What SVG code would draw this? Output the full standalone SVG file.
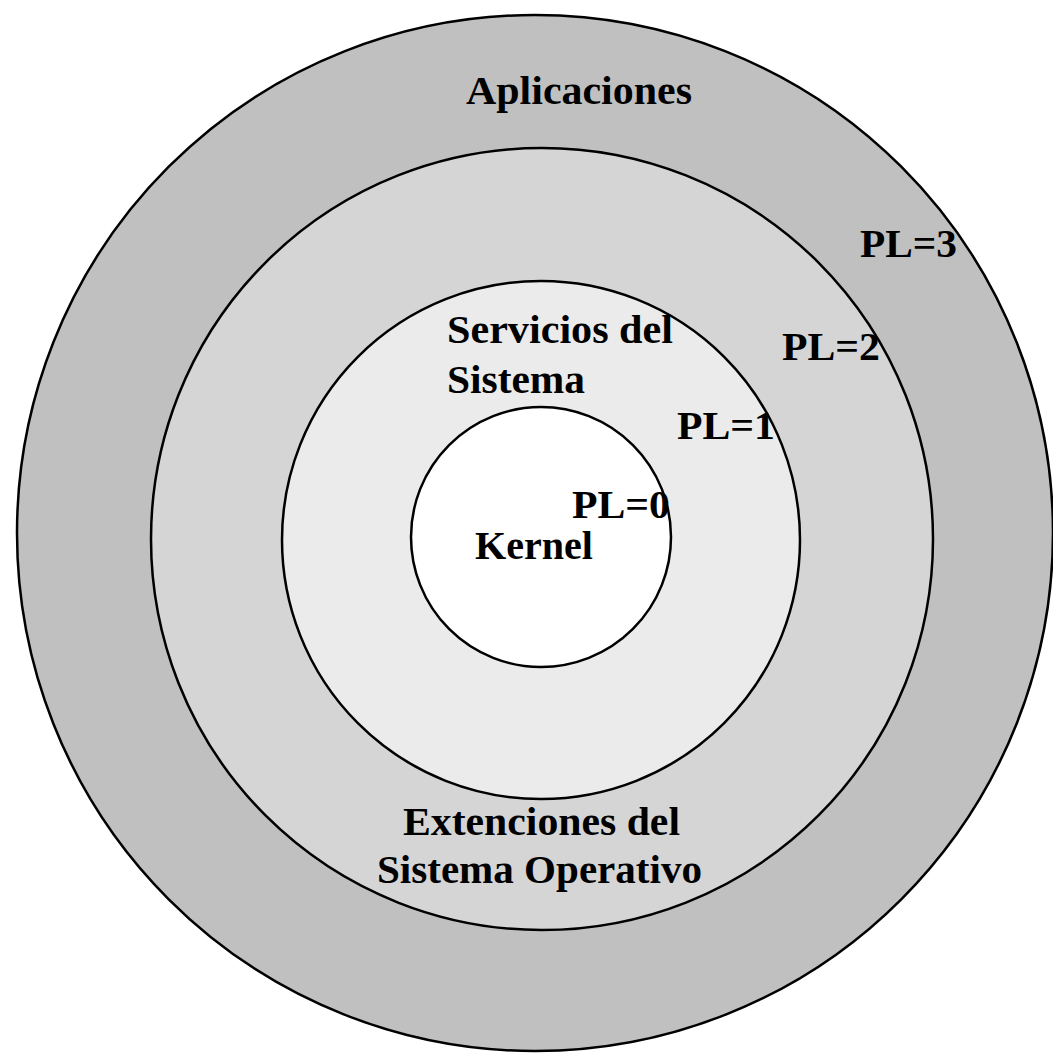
<svg xmlns="http://www.w3.org/2000/svg" width="1053" height="1056" viewBox="0 0 1053 1056">
<style>
.ring{stroke:#000;stroke-width:2.5}
.t{font-family:"Liberation Serif","Times New Roman",serif;font-weight:bold;font-size:39px;fill:#000}
</style>
<rect width="1053" height="1056" fill="#fff"/>
<g id="ring-pl3"><circle class="ring" cx="535" cy="533" r="518" fill="#c0c0c0"/></g>
<g id="ring-pl2"><circle class="ring" cx="542" cy="539" r="391" fill="#d5d5d5"/></g>
<g id="ring-pl1"><circle class="ring" cx="541" cy="540" r="259" fill="#ebebeb"/></g>
<g id="ring-pl0"><circle class="ring" cx="541" cy="537" r="130" fill="#fff"/></g>
<g id="labels">
<text class="t" x="466" y="104" textLength="226" lengthAdjust="spacingAndGlyphs">Aplicaciones</text>
<text class="t" x="860" y="257" textLength="97" lengthAdjust="spacingAndGlyphs">PL=3</text>
<text class="t" x="782" y="360" textLength="98" lengthAdjust="spacingAndGlyphs">PL=2</text>
<text class="t" x="447" y="343" textLength="226" lengthAdjust="spacingAndGlyphs">Servicios del</text>
<text class="t" x="447" y="393" textLength="138" lengthAdjust="spacingAndGlyphs">Sistema</text>
<text class="t" x="677" y="439" textLength="98" lengthAdjust="spacingAndGlyphs">PL=1</text>
<text class="t" x="572" y="518" textLength="98" lengthAdjust="spacingAndGlyphs">PL=0</text>
<text class="t" x="475" y="559" textLength="118" lengthAdjust="spacingAndGlyphs">Kernel</text>
<text class="t" x="403" y="835" textLength="277" lengthAdjust="spacingAndGlyphs">Extenciones del</text>
<text class="t" x="377" y="883" textLength="325" lengthAdjust="spacingAndGlyphs">Sistema Operativo</text>
</g>
</svg>
